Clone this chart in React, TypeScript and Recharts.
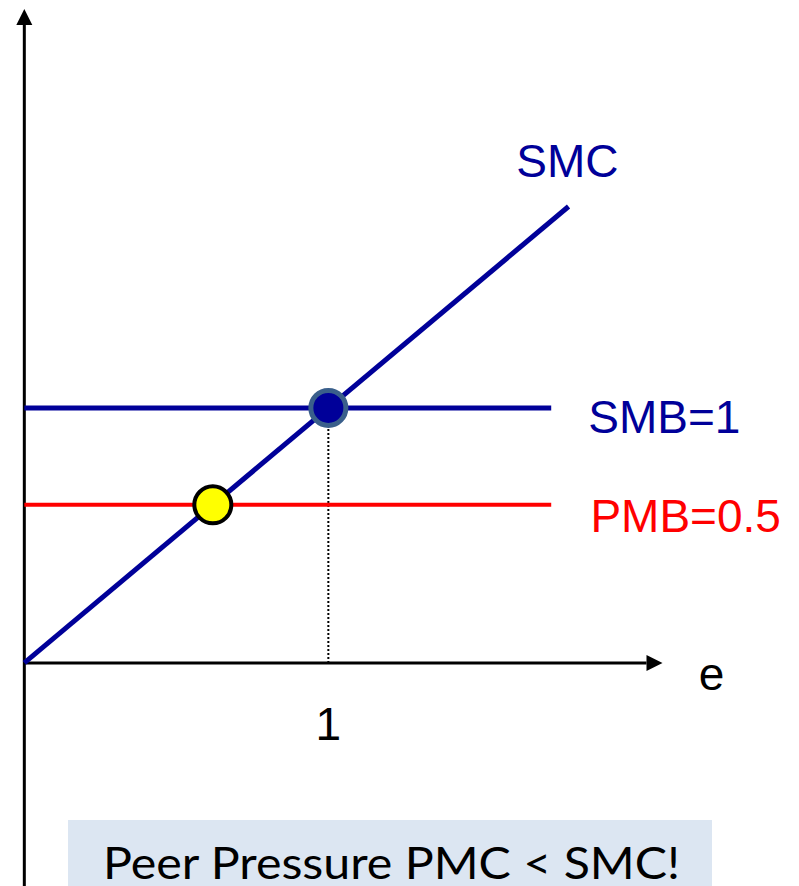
import {
  ComposedChart,
  ReferenceDot,
  ReferenceLine,
  XAxis,
  YAxis,
} from 'recharts';

// curves (e, value)
const smcLine = [
  { x: 0, y: 0 },
  { x: 1.79, y: 1.79 },
];
const smbLine = [
  { x: 0, y: 1 },
  { x: 1.733, y: 1 },
];
const pmbLine = [
  { x: 0, y: 0.62 },
  { x: 1.733, y: 0.62 },
];
// equilibria
const socialOpt = { x: 1, y: 1 };
const privateOpt = { x: 0.62, y: 0.62 };

const labels = ['SMC', 'SMB=1', 'PMB=0.5'];
const xTickLabel = '1';
const xAxisName = 'e';
const caption = 'Peer Pressure PMC < SMC!';

const NAVY = '#000099';
const RED = '#FF0000';
const FONT = '"Liberation Sans", Arial, sans-serif';

function Arrow({ x1, y1, x2, y2 }: any) {
  const dx = x2 - x1;
  const dy = y2 - y1;
  const len = Math.sqrt(dx * dx + dy * dy) || 1;
  const ux = dx / len;
  const uy = dy / len;
  const head = 16;
  const half = 8;
  const bx = x2 - ux * head;
  const by = y2 - uy * head;
  return (
    <g>
      <line x1={x1} y1={y1} x2={bx} y2={by} stroke="#000" strokeWidth={3} />
      <polygon
        points={`${x2},${y2} ${bx - uy * half},${by + ux * half} ${bx + uy * half},${by - ux * half}`}
        fill="#000"
      />
    </g>
  );
}

const textAt = (text: string, color: string, anchor: 'start' | 'middle') => (p: any) => (
  <text x={p.cx} y={p.cy} fill={color} fontSize={46} fontFamily={FONT} textAnchor={anchor}>
    {text}
  </text>
);

export default function App() {
  return (
    <div style={{ position: 'absolute', left: 0, top: 0, width: 799, height: 886, background: '#fff' }}>
      <ComposedChart width={799} height={886} margin={{ top: 0, right: 0, bottom: 0, left: 0 }}>
        <XAxis type="number" dataKey="x" hide domain={[-0.08, 2.548]} allowDataOverflow />
        <YAxis type="number" dataKey="y" hide domain={[-0.875, 2.6]} allowDataOverflow />

        <ReferenceLine
          segment={[{ x: 0, y: -0.875 }, { x: 0, y: 2.565 }]}
          shape={(p: any) => <Arrow {...p} />}
          ifOverflow="visible"
        />
        <ReferenceLine
          segment={[{ x: 0, y: 0 }, { x: 2.099, y: 0 }]}
          shape={(p: any) => <Arrow {...p} />}
          ifOverflow="visible"
        />
        <ReferenceLine
          segment={[{ x: socialOpt.x, y: 0 }, socialOpt]}
          stroke="#000"
          strokeWidth={2}
          strokeDasharray="2 2"
        />

        <ReferenceLine segment={smbLine} stroke={NAVY} strokeWidth={5} />
        <ReferenceLine segment={pmbLine} stroke={RED} strokeWidth={4} />
        <ReferenceLine segment={smcLine} stroke={NAVY} strokeWidth={5} />

        <ReferenceDot x={socialOpt.x} y={socialOpt.y} r={17.5} fill={NAVY} stroke="#3A5F8B" strokeWidth={5} />
        <ReferenceDot x={privateOpt.x} y={privateOpt.y} r={18.5} fill="#FFFF00" stroke="#000" strokeWidth={4} />

        <ReferenceDot x={1.618} y={1.906} r={0} shape={textAt(labels[0], NAVY, 'start')} ifOverflow="visible" />
        <ReferenceDot x={1.855} y={0.902} r={0} shape={textAt(labels[1], NAVY, 'start')} ifOverflow="visible" />
        <ReferenceDot x={1.862} y={0.514} r={0} shape={textAt(labels[2], RED, 'start')} ifOverflow="visible" />
        <ReferenceDot x={2.26} y={-0.106} r={0} shape={textAt(xAxisName, '#000', 'middle')} ifOverflow="visible" />
        <ReferenceDot x={1} y={-0.302} r={0} shape={textAt(xTickLabel, '#000', 'middle')} ifOverflow="visible" />
      </ComposedChart>
      <svg
        width={644}
        height={66}
        style={{ position: 'absolute', left: 68, top: 820 }}
      >
        <rect x={0} y={0} width={644} height={66} fill="#DCE6F2" />
        <text
          x={35}
          y={59}
          fontSize={44}
          fontFamily="Lato, 'Open Sans', sans-serif"
          textLength={577}
          lengthAdjust="spacingAndGlyphs"
          fill="#000"
        >
          {caption}
        </text>
      </svg>
    </div>
  );
}
